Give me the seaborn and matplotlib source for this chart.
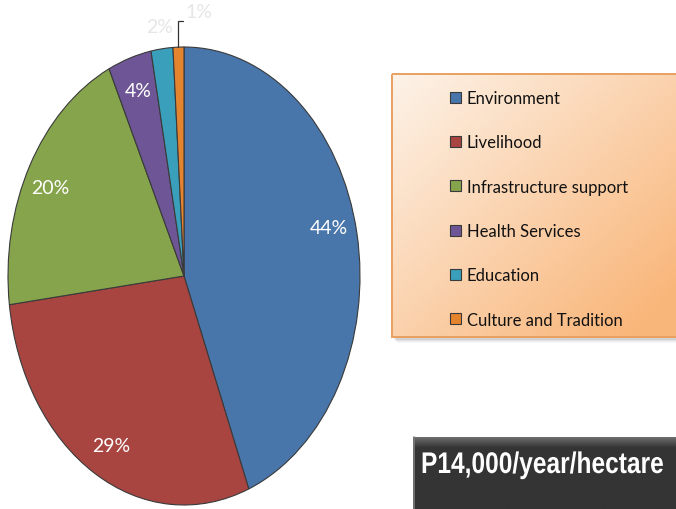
import numpy as np
import matplotlib
matplotlib.use("Agg")
import matplotlib.pyplot as plt
import seaborn as sns
from matplotlib.patches import Rectangle
from matplotlib.patheffects import AbstractPathEffect
from matplotlib.transforms import Affine2D

# Allocation of the payment across uses (percent)
categories = ["Environment", "Livelihood", "Infrastructure support",
              "Health Services", "Education", "Culture and Tradition"]
shares = [44, 29, 20, 4, 2, 1]
colors = ["#4875AA", "#A84541", "#86A44B", "#6E5696", "#3A9FBA", "#E5842F"]
banner = "P14,000/year/hectare"

# small angular nudges (degrees) for the in-slice labels
label_nudge = [3.5, 1.4, 1.9, 0.0, 0.0, 0.0]

sns.set_theme(style="white")
plt.rcParams["font.family"] = ["Lato", "DejaVu Sans"]

W, H = 676, 510
fig = plt.figure(figsize=(W / 100, H / 100), dpi=100)
fig.patch.set_facecolor("white")


def fbox(x0, y0, w, h):
    """Figure-fraction box from top-left pixel geometry."""
    return [x0 / W, 1 - (y0 + h) / H, w / W, h / H]


class Reshape(AbstractPathEffect):
    """Scale the glyphs about a fixed display point (condensed, taller look)."""

    def __init__(self, sx, sy, x0, y0):
        super().__init__()
        self.sx, self.sy = sx, sy
        self.x0, self.y0 = x0, y0

    def draw_path(self, renderer, gc, tpath, affine, rgbFace=None):
        warp = (Affine2D().translate(-self.x0, -self.y0)
                .scale(self.sx, self.sy).translate(self.x0, self.y0))
        renderer.draw_path(gc, tpath, affine + warp, rgbFace)


# Decoration layer in pixel coordinates
bg = fig.add_axes([0, 0, 1, 1])
bg.set_xlim(0, W)
bg.set_ylim(H, 0)
bg.axis("off")

# ---- pie (stretched vertically into an ellipse) ----
pie_ax = fig.add_axes(fbox(8, 48, 352, 458))
wedges, _ = pie_ax.pie(
    shares, colors=colors, startangle=90, counterclock=False,
    wedgeprops=dict(edgecolor="#3a3a3a", linewidth=0.8),
)
pie_ax.set_aspect("auto")
pie_ax.set_xlim(-1, 1)
pie_ax.set_ylim(-1, 1)
pie_ax.axis("off")
for w in wedges:
    w.set_clip_on(False)

faint = "#e6e6e6"
for w, val, nd in zip(wedges, shares, label_nudge):
    mid = np.deg2rad((w.theta1 + w.theta2) / 2 + nd)
    if val >= 4:
        r = 0.85
        pie_ax.text(r * np.cos(mid), r * np.sin(mid), f"{val}%", color="white",
                    fontsize=14, ha="center", va="center")
    elif val == 2:
        r = 1.10
        pie_ax.text(r * np.cos(mid), r * np.sin(mid), f"{val}%", color=faint,
                    fontsize=14, ha="center", va="center", clip_on=False)
    else:
        # leader line: straight up from the slice, then a short step right
        x0, y0 = np.cos(mid), np.sin(mid)
        yk = y0 + 0.115
        pie_ax.plot([x0, x0, x0 + 0.025], [y0, yk, yk], color="#333333",
                    lw=0.9, clip_on=False, solid_joinstyle="miter")
        pie_ax.text(x0 + 0.04, yk + 0.04, f"{val}%", color=faint,
                    fontsize=14, ha="left", va="center", clip_on=False)

# ---- legend panel with shadow and orange gradient ----
lx0, ly0, lx1, ly1 = 392, 75, 680, 338
for k, a in enumerate([0.10, 0.08, 0.06, 0.04]):
    bg.add_patch(Rectangle((lx0 + 2 + k, ly0 + 3 + k), lx1 - lx0, ly1 - ly0,
                           facecolor="#555555", alpha=a, lw=0))
gx = np.linspace(0, 1, 200)
gy = np.linspace(0, 1, 200)
GX, GY = np.meshgrid(gx, gy)
t = np.clip(0.55 * GX + 0.55 * GY, 0, 1)[..., None]
c0 = np.array([253, 243, 233]) / 255
c1 = np.array([249, 182, 122]) / 255
bg.imshow(c0 + (c1 - c0) * t, extent=[lx0, lx1, ly1, ly0], aspect="auto",
          interpolation="bilinear", zorder=1)
bg.add_patch(Rectangle((lx0, ly0), lx1 - lx0, ly1 - ly0, facecolor="none",
                       edgecolor="#E9A062", lw=1.4, zorder=2))

fig.legend(wedges, categories, loc="upper left",
           bbox_to_anchor=(450 / W, 1 - 91 / H), frameon=False,
           fontsize=12, handlelength=0.66, handleheight=0.66,
           handletextpad=0.35, labelspacing=1.70, borderpad=0,
           borderaxespad=0, labelcolor="#111111")

# ---- dark banner ----
bx0, by0, bx1, by1 = 413, 438, 680, 512
vy = np.linspace(0, 1, 200)[:, None, None]
d0 = np.array([110, 110, 110]) / 255
d1 = np.array([52, 52, 52]) / 255
grad = d0 + (d1 - d0) * np.clip(vy * 7, 0, 1)
grad = np.repeat(grad, 2, axis=1)
bg.imshow(grad, extent=[bx0, bx1, by1, by0], aspect="auto",
          interpolation="bilinear", zorder=1)
bg.plot([bx0 + 0.5, bx0 + 0.5], [by0, by1], color="#7a7a7a", lw=1.2, zorder=2)

base_size = 21.5
btxt = bg.text(421, 474, banner, color="white", fontsize=base_size,
               fontweight="bold", family=["Liberation Sans", "DejaVu Sans"],
               ha="left", va="baseline", zorder=3)
# set the type small enough to fit the box, then draw it narrow and tall
renderer = fig.canvas.get_renderer()
natural = btxt.get_window_extent(renderer).width
fit_size = base_size * 240 / natural
btxt.set_fontsize(fit_size)
fitted = btxt.get_window_extent(renderer).width
ax_px, ay_px = bg.transData.transform((421, 474))
btxt.set_path_effects([Reshape(243 / fitted, base_size / fit_size, ax_px, ay_px)])

fig.savefig("out.png", dpi=100, facecolor="white")
